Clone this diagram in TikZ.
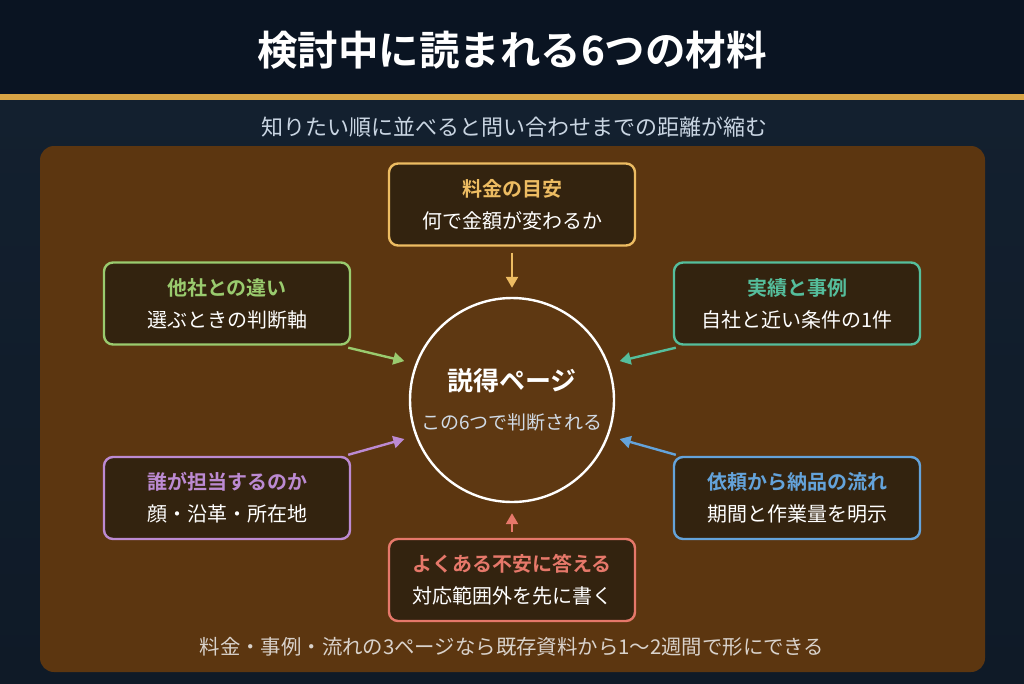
\documentclass[tikz,border=0pt]{standalone}
\usepackage{fontspec}
\setmainfont{Noto Sans CJK JP}[BoldFont={Noto Sans CJK JP Bold}]
\usetikzlibrary{arrows.meta,calc}
\definecolor{nightbg}{HTML}{0A1422}
\definecolor{bandtop}{HTML}{13202F}
\definecolor{bandbot}{HTML}{0F1A27}
\definecolor{goldline}{HTML}{D9A445}
\definecolor{panelbrown}{HTML}{5C3610}
\definecolor{boxfill}{HTML}{33230F}
\definecolor{subtxt}{HTML}{C9D5E2}
\definecolor{notetxt}{HTML}{D9D2CB}
\definecolor{feegold}{HTML}{EDBC62}
\definecolor{diffgreen}{HTML}{9ACB6E}
\definecolor{caseteal}{HTML}{55BE9C}
\definecolor{staffpurple}{HTML}{BC8AD2}
\definecolor{flowblue}{HTML}{64A3DA}
\definecolor{faqred}{HTML}{E6786A}

\begin{document}
\begin{tikzpicture}[
    x=1pt, y=-1pt,
    card/.style={draw=#1, fill=boxfill, line width=2.4pt, rounded corners=9pt,
                 minimum width=246pt, minimum height=82pt, align=center,
                 text=white, inner sep=0pt, font=\fontsize{20}{32}\selectfont},
    link/.style={draw=#1, line width=2.4pt, shorten >=2pt,
                 -{Triangle[length=11pt,width=12pt]}}
]

% ---------- background ----------
\useasboundingbox (0,0) rectangle (1024,683);
\fill[nightbg] (0,0) rectangle (1024,96);
\shade[top color=bandtop, bottom color=bandbot] (0,100) rectangle (1024,683);
\fill[goldline] (0,94) rectangle (1024,100);

% ---------- title and subtitle ----------
\node[text=white, font=\fontsize{40.5}{42}\selectfont\bfseries] (title) at (512,50) {検討中に読まれる6つの材料};
\node[text=subtxt, font=\fontsize{22}{24}\selectfont] (subtitle) at (514,127) {知りたい順に並べると問い合わせまでの距離が縮む};

% ---------- brown panel ----------
\fill[panelbrown, rounded corners=14pt] (40,146) rectangle (985,672);

% ---------- centre ----------
\node[circle, draw=white, line width=2.4pt, fill=panelbrown!99!white, minimum size=204pt,
      align=center, text=white, font=\fontsize{19}{39}\selectfont] (core) at (512,400)
  {{\fontsize{26}{39}\selectfont\bfseries 説得ページ}\\
   {\color{subtxt!85!white}この6つで判断される}};

% ---------- six materials ----------
\node[card=feegold] (fee) at (512,204.5)
  {{\bfseries\color{feegold}料金の目安}\\ 何で金額が変わるか};
\node[card=diffgreen] (diff) at (227,303.5)
  {{\bfseries\color{diffgreen}他社との違い}\\ 選ぶときの判断軸};
\node[card=caseteal] (case) at (797,303.5)
  {{\bfseries\color{caseteal}実績と事例}\\ 自社と近い条件の1件};
\node[card=staffpurple] (staff) at (227,498)
  {{\bfseries\color{staffpurple}誰が担当するのか}\\ 顔・沿革・所在地};
\node[card=flowblue] (flow) at (797,498)
  {{\bfseries\color{flowblue}依頼から納品の流れ}\\ 期間と作業量を明示};
\node[card=faqred] (faq) at (512,580)
  {{\bfseries\color{faqred}よくある不安に答える}\\ 対応範囲外を先に書く};

% ---------- arrows into the circle ----------
\draw[link=feegold] ([yshift=-6pt]fee.south) -- ([yshift=7pt]core.north);
\draw[link=diffgreen] ([xshift=-3pt,yshift=-2pt]diff.south east) -- ($(core.center)!1.09!(core.160)$);
\draw[link=caseteal] ([xshift=3pt,yshift=-2pt]case.south west) -- ($(core.center)!1.09!(core.20)$);
\draw[link=staffpurple] ([xshift=-3pt,yshift=1pt]staff.north east) -- ($(core.center)!1.09!(core.200)$);
\draw[link=flowblue] ([xshift=3pt,yshift=1pt]flow.north west) -- ($(core.center)!1.09!(core.-20)$);
\draw[link=faqred] ([yshift=6pt]faq.north) -- ([yshift=-8pt]core.south);

% ---------- note ----------
\node[text=notetxt, font=\fontsize{20.4}{22}\selectfont] (note) at (512,647)
  {料金・事例・流れの3ページなら既存資料から1〜2週間で形にできる};

\end{tikzpicture}
\end{document}
